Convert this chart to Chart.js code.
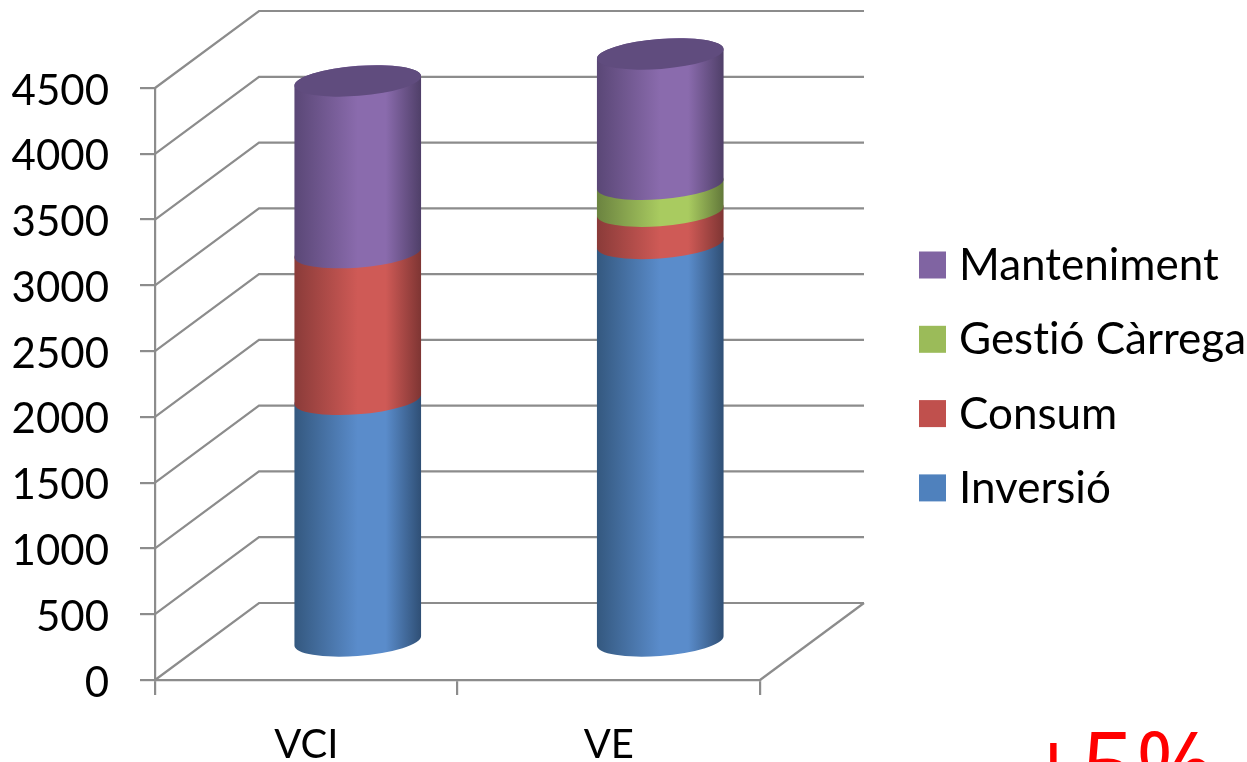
<!DOCTYPE html>
<html>
<head>
<meta charset="utf-8">
<script src="https://cdn.jsdelivr.net/npm/chart.js@4"></script>
<style>
  html, body { margin: 0; padding: 0; background: #fff; overflow: hidden; }
  canvas { display: block; }
</style>
</head>
<body>
<canvas id="costChart" width="1247" height="762"></canvas>
<script>
// Chart data
const categories = ['VCI', 'VE'];
const inversio = [1845, 3030];
const consum = [1115, 245];
const gestio = [0, 205];
const manteniment = [1305, 990];
const yMax = 4500;
const yStep = 500;

// colours: legend, cylinder edge, cylinder middle, cylinder right edge
const blue = ['#4f81bd', '#34587f', '#5a8ccb', '#2f4f75'];
const red = ['#c0504d', '#8a3b39', '#cf5a56', '#7e3533'];
const green = ['#9bbb59', '#6b8340', '#a9cb60', '#62783a'];
const purple = ['#8064a2', '#5a4776', '#8a6bad', '#4f3f68'];

const lineColor = '#8c8c8c';
const textFont = 'Lato';

// 3D look: depth of the box and of the plane the cylinders stand on
const depthX = 104, depthY = 77;
const barShiftX = 51.5, barShiftY = 38;
const capRy = 15;
const capTilt = -4.5 * Math.PI / 180;

function cylinderPath(ctx, cx, topY, baseY, rx) {
    // angle where the tilted ellipse touches its vertical tangent
    const t0 = Math.atan2(-capRy * Math.sin(capTilt), rx * Math.cos(capTilt));
    ctx.beginPath();
    ctx.ellipse(cx, topY, rx, capRy, capTilt, t0 + Math.PI, t0 + 2 * Math.PI);
    ctx.ellipse(cx, baseY, rx, capRy, capTilt, t0, t0 + Math.PI);
    ctx.closePath();
}

function drawCylinders(chart, index) {
    const ctx = chart.ctx;
    const shades = chart.data.datasets[index].shades;
    chart.getDatasetMeta(index).data.forEach((bar, i) => {
        const p = bar.getProps(['x', 'y', 'base', 'width'], true);
        if (Math.abs(p.base - p.y) < 1) return;
        const cx = p.x + barShiftX, rx = p.width / 2;
        const topY = p.y - barShiftY, baseY = p.base - barShiftY;
        const grad = ctx.createLinearGradient(cx - rx, 0, cx + rx, 0);
        grad.addColorStop(0, shades[1]);
        grad.addColorStop(0.5, shades[2]);
        grad.addColorStop(0.72, shades[2]);
        grad.addColorStop(1, shades[3]);
        ctx.save();
        cylinderPath(ctx, cx, topY, baseY, rx);
        ctx.fillStyle = grad;
        ctx.fill();
        // top of the stack gets a darker lid
        const isTop = chart.data.datasets.every((d, k) => k <= index || !d.data[i]);
        if (isTop) {
            ctx.beginPath();
            ctx.ellipse(cx, topY, rx, capRy, capTilt, 0, 2 * Math.PI);
            ctx.fillStyle = '#604c7e';
            ctx.fill();
        }
        ctx.restore();
    });
}

const box3d = {
    id: 'box3d',
    beforeDatasetsDraw(chart) {
        const ctx = chart.ctx, y = chart.scales.y, area = chart.chartArea;
        ctx.save();
        ctx.strokeStyle = lineColor;
        ctx.lineWidth = 2.2;
        for (let v = 0; v <= yMax; v += yStep) {
            const py = y.getPixelForValue(v);
            ctx.beginPath();
            ctx.moveTo(area.left, py);
            ctx.lineTo(area.left + depthX, py - depthY);
            ctx.lineTo(area.right + depthX, py - depthY);
            ctx.stroke();
        }
        // floor, right side
        const py0 = y.getPixelForValue(0);
        ctx.beginPath();
        ctx.moveTo(area.right, py0);
        ctx.lineTo(area.right + depthX, py0 - depthY);
        ctx.stroke();
        ctx.restore();
        // stack from the bottom up so every segment overlaps the one below
        chart.data.datasets.forEach((d, i) => drawCylinders(chart, i));
    },
    beforeDatasetDraw() {
        return false; // the cylinder replaces the flat bar
    }
};

const sideLegend = {
    id: 'sideLegend',
    afterDraw(chart) {
        const ctx = chart.ctx;
        const items = chart.data.datasets.slice().reverse();
        ctx.save();
        ctx.textBaseline = 'middle';
        ctx.textAlign = 'left';
        ctx.font = '44px ' + textFont;
        ctx.textRendering = 'optimizeSpeed'; // no "ti" ligature
        items.forEach((d, i) => {
            const rowY = 265 + i * 74.3;
            ctx.fillStyle = d.backgroundColor;
            ctx.fillRect(919, rowY - 13.5, 27, 27);
            ctx.fillStyle = '#000';
            ctx.fillText(d.label, 959, rowY + 1);
        });
        // note in the corner, cut off by the page edge
        ctx.fillStyle = '#ff0000';
        ctx.textBaseline = 'alphabetic';
        ctx.font = '96px "Open Sans"';
        ctx.fillText('+5%', 1026, 800);
        ctx.restore();
    }
};

const makeSet = (label, data, shades) => ({
    label: label,
    data: data,
    shades: shades,
    backgroundColor: shades[0]
});

new Chart(document.getElementById('costChart'), {
    type: 'bar',
    data: {
        labels: categories,
        datasets: [
            makeSet('Inversió', inversio, blue),
            makeSet('Consum', consum, red),
            makeSet('Gestió Càrrega', gestio, green),
            makeSet('Manteniment', manteniment, purple)
        ]
    },
    plugins: [box3d, sideLegend],
    options: {
        responsive: false,
        animation: false,
        layout: { padding: { left: 0, top: 88, right: 487, bottom: 0 } },
        datasets: { bar: { barThickness: 127 } },
        plugins: {
            legend: { display: false },
            tooltip: { enabled: false }
        },
        scales: {
            x: {
                stacked: true,
                afterFit: s => { s.height = 82; },
                border: { color: lineColor, width: 2.2 },
                grid: { color: lineColor, lineWidth: 2.2, drawOnChartArea: false, tickLength: 15 },
                ticks: { color: '#000', padding: 26, maxRotation: 0, font: { family: textFont, size: 40 } }
            },
            y: {
                stacked: true,
                min: 0,
                max: yMax,
                afterFit: s => { s.width = 155; },
                border: { color: lineColor, width: 2.2 },
                grid: { color: lineColor, lineWidth: 2.2, drawOnChartArea: false, tickLength: 15 },
                ticks: {
                    stepSize: yStep,
                    color: '#000',
                    padding: 31,
                    labelOffset: 3,
                    callback: v => String(v),
                    font: { family: textFont, size: 42 }
                }
            }
        }
    }
});
</script>
</body>
</html>
